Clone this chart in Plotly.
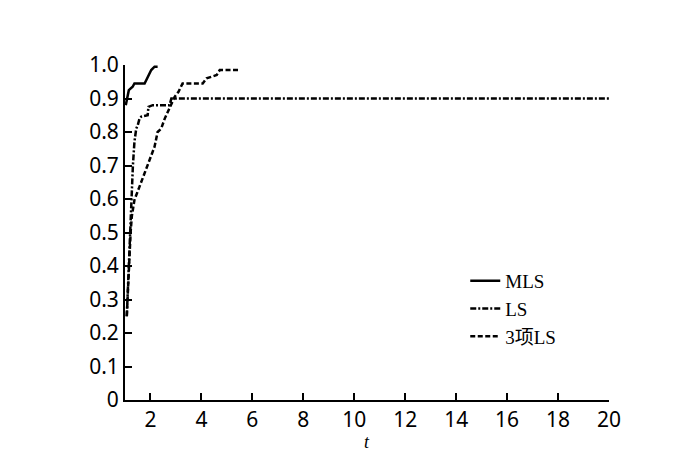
import plotly.graph_objects as go

# MLS
mls_t = [1.03, 1.08, 1.15, 1.3, 1.37, 1.77, 1.83, 1.96, 2.03, 2.16, 2.28]
mls_y = [0.88, 0.90, 0.925, 0.935, 0.945, 0.945, 0.955, 0.975, 0.985, 0.995, 0.995]

# LS
ls_t = [1.07, 1.12, 1.16, 1.2, 1.24, 1.27, 1.31, 1.37, 1.44, 1.5, 1.57, 1.64, 1.89, 1.92,
        2.09, 2.75, 2.82, 20.0]
ls_y = [0.25, 0.35, 0.42, 0.50, 0.60, 0.65, 0.70, 0.77, 0.81, 0.82, 0.84, 0.846, 0.85, 0.875,
        0.88, 0.88, 0.90, 0.90]

# 3-term LS
ls3_t = [1.07, 1.12, 1.17, 1.22, 1.27, 1.37, 1.57, 1.77, 1.96, 2.16, 2.28, 2.42, 2.56, 2.65,
         2.75, 2.82, 2.95, 3.1, 3.26, 4.05, 4.2, 4.6, 4.72, 5.5]
ls3_y = [0.25, 0.35, 0.42, 0.50, 0.55, 0.597, 0.637, 0.677, 0.716, 0.756, 0.80, 0.81, 0.84, 0.855,
         0.87, 0.886, 0.905, 0.92, 0.945, 0.945, 0.96, 0.97, 0.985, 0.985]

x_ticks = [2, 4, 6, 8, 10, 12, 14, 16, 18, 20]
y_ticks = [0, 0.1, 0.2, 0.3, 0.4, 0.5, 0.6, 0.7, 0.8, 0.9, 1.0]
y_labels = ["0", "0.1", "0.2", "0.3", "0.4", "0.5", "0.6", "0.7", "0.8", "0.9", "1.0"]

fig = go.Figure()
fig.add_trace(go.Scatter(x=mls_t, y=mls_y, mode="lines", name="MLS",
                         line=dict(color="black", width=2.5)))
fig.add_trace(go.Scatter(x=ls_t, y=ls_y, mode="lines", name="LS",
                         line=dict(color="black", width=2.5, dash="6px,2px,2px,2px")))
fig.add_trace(go.Scatter(x=ls3_t, y=ls3_y, mode="lines", name="3项LS",
                         line=dict(color="black", width=2.5, dash="5px,2.5px")))

tickfont = dict(family="Noto Sans, DejaVu Sans, sans-serif", size=21, color="black")

fig.update_layout(
    width=700, height=454,
    margin=dict(l=117, r=99, t=57, b=62),
    paper_bgcolor="white", plot_bgcolor="white",
    showlegend=True,
    legend=dict(x=0.703, y=0.412, xanchor="left", yanchor="top", itemwidth=30,
                bgcolor="rgba(0,0,0,0)", tracegroupgap=0,
                font=dict(family="Liberation Serif, Noto Sans CJK SC, serif", size=19, color="black")),
    xaxis=dict(range=[1, 20], tickvals=x_ticks, ticks="inside", ticklen=7, tickwidth=2,
               tickcolor="black", showline=True, linecolor="black", linewidth=2,
               showgrid=False, zeroline=False, tickfont=tickfont),
    yaxis=dict(range=[0, 1.0], tickvals=y_ticks, ticktext=y_labels, ticks="inside", ticklen=7,
               tickwidth=2, tickcolor="black", showline=True, linecolor="black", linewidth=2,
               showgrid=False, zeroline=False, tickfont=tickfont),
    annotations=[dict(text="<i>t</i>", xref="paper", yref="paper", x=0.5, y=-0.09,
                      xanchor="center", yanchor="top", showarrow=False,
                      font=dict(family="Liberation Serif, serif", size=18, color="black"))],
)

fig.write_html("out.html")
